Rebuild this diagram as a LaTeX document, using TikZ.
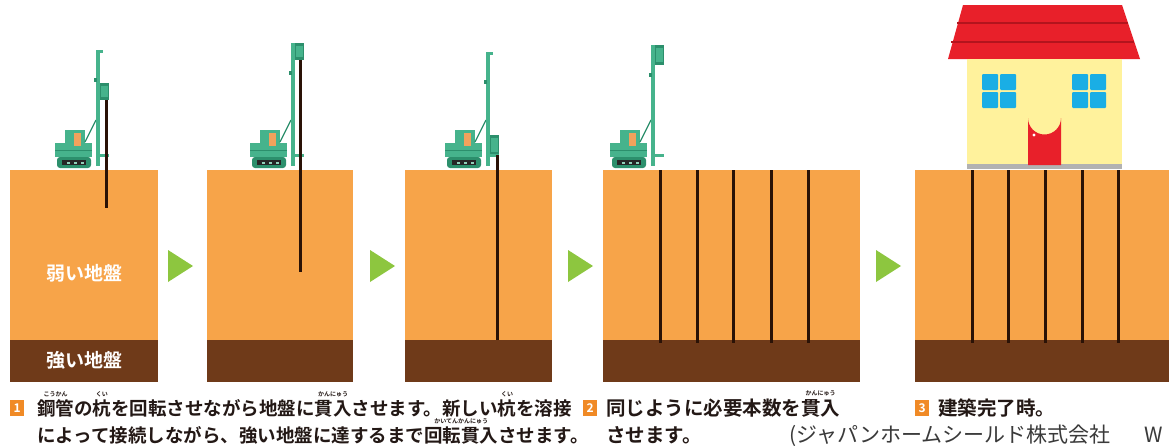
\documentclass[tikz,border=0pt]{standalone}
\usepackage{fontspec}
\newfontfamily\jp{Noto Sans CJK JP}[BoldFont=* Bold]
\definecolor{soil}{HTML}{F7A449}
\definecolor{rock}{HTML}{6F3A19}
\definecolor{piledark}{HTML}{2A1206}
\definecolor{arrowgreen}{HTML}{8DC63F}
\definecolor{riggreen}{HTML}{46B38C}
\definecolor{riggreendark}{HTML}{2C8F6C}
\definecolor{caborange}{HTML}{F2A25C}
\definecolor{roofred}{HTML}{E8202A}
\definecolor{roofdark}{HTML}{B3141D}
\definecolor{wall}{HTML}{FFF29C}
\definecolor{glass}{HTML}{1AAEE5}
\definecolor{numorange}{HTML}{F08A26}
\definecolor{captext}{HTML}{231815}
\definecolor{credit}{HTML}{3A3A3A}
% furigana set above a word without changing the line height
\newcommand\rb[2]{\setbox0\hbox{#1}\rlap{\raisebox{1.0em}[0pt][0pt]{\makebox[\wd0]{\fontsize{6}{6}\selectfont #2}}}\box0}
% pile-driving rig: #1 mast x, #2 mast top, #3 head top, #4 head bottom
\newcommand\drawrig[4]{%
  \begin{scope}[shift={(#1,0)}]
    \fill[riggreendark, rounded corners=3pt] (-41,157) rectangle (-7,168);
    \fill[black!85] (-36,160) rectangle (-12,165);
    \foreach \w in {-31,-24,-17} \fill[riggreen!60] (\w,161.5) rectangle (\w+3,163.5);
    \fill[riggreen] (-43,143) rectangle (-6,157);
    \draw[riggreendark, line width=0.8pt] (-43,150) -- (-6,150);
    \fill[riggreen] (-33,130) rectangle (-13,143);
    \fill[caborange] (-24,133) rectangle (-17,146);
    \draw[riggreendark, line width=1.2pt] (-13,142) -- (-2,120);
    \fill[riggreen] (-2,#2) rectangle (1.5,166);
    \fill[riggreen] (-2,#2) rectangle (5,#2+2.5);
    \fill[riggreendark] (-4,#2+28) rectangle (-1,#2+32);
    \fill[riggreendark] (1.5,#3) rectangle (11,#4);
    \fill[riggreen] (3,#3+3) rectangle (9.5,#4-3);
    \fill[riggreen] (1.5,154) rectangle (11,157);
  \end{scope}}
\begin{document}
\begin{tikzpicture}[x=1pt,y=-1pt,
  soilfill/.style={fill=soil},
  rockfill/.style={fill=rock},
  pile/.style={draw=piledark, line width=3pt},
  steparrow/.style={fill=arrowgreen},
  layerlbl/.style={font=\jp\bfseries\fontsize{19}{19}\selectfont, text=white, inner sep=0},
  captxt/.style={font=\jp\bfseries\fontsize{18.5}{18.5}\selectfont, text=captext, anchor=base west, inner sep=0},
  captxtb/.style={captxt, font=\jp\bfseries\fontsize{19.5}{19.5}\selectfont},
  numbox/.style={fill=numorange, text=white, font=\jp\bfseries\fontsize{12}{12}\selectfont, minimum width=14pt, minimum height=16pt, inner sep=0, anchor=north west},
  creditlbl/.style={font=\jp\fontsize{21}{21}\selectfont, text=credit, anchor=base west, inner sep=0}]
\useasboundingbox (0,0) rectangle (1169,445);
\fill[white] (0,0) rectangle (1169,445);

% ground panels: weak soil above, bearing layer below
\foreach \a/\b in {10/158, 207/353, 405/552, 603/860, 915/1169} {
  \fill[soilfill] (\a,170) rectangle (\b,340);
  \fill[rockfill] (\a,340) rectangle (\b,382);
}

% step arrows
\foreach \a in {168, 370, 568, 876}
  \fill[steparrow] (\a,250) -- (\a+25,266) -- (\a,282) -- cycle;

% step 1: first pile entering the soil
\drawrig{98}{50}{83}{100}
\draw[pile] (106,100) -- (106,208);
% step 2: pile extended and driven deeper
\drawrig{293}{43}{43}{60}
\draw[pile] (300,60) -- (300,272);
% step 3: pile reaches the bearing layer
\drawrig{488}{52}{135}{155}
\draw[pile] (497,155) -- (497,340);
% step 4: rig with all piles installed
\drawrig{653}{45}{45}{65}
\foreach \p in {660, 697, 733, 771, 808}
  \draw[pile] (\p,170) -- (\p,343);
% step 5 piles under the house
\foreach \p in {972, 1008, 1045, 1082, 1118}
  \draw[pile] (\p,170) -- (\p,343);

% house
\fill[roofred] (963,5) -- (1122,5) -- (1140,59) -- (948,59) -- cycle;
\draw[roofdark, line width=2pt] (957,23) -- (1128,23);
\draw[roofdark, line width=2pt] (951,42) -- (1134,42);
\fill[wall] (967,59) rectangle (1122,165);
\fill[black!30] (967,164) rectangle (1122,169);
\foreach \wx in {982, 1072} {
  \foreach \dx/\dy in {0/0, 18/0, 0/18, 18/18}
    \fill[glass, rounded corners=1pt] (\wx+\dx,74+\dy) rectangle (\wx+\dx+16,74+\dy+16);
}
\fill[roofred] (1028,165) -- (1028,118) arc[start angle=180, end angle=0, radius=16.5] -- (1061,165) -- cycle;
\fill[white] (1034,135) circle (1.6);

% layer labels
\node[layerlbl] (weak) at (84,273) {弱い地盤};
\node[layerlbl] (strong) at (84,360) {強い地盤};

% captions
\node[numbox] (n1) at (10,400) {1};
\node[captxt] (c1a) at (37,415) {\rb{鋼管}{こうかん}の\rb{杭}{くい}を回転させながら地盤に\rb{貫入}{かんにゅう}させます。新しい\rb{杭}{くい}を溶接};
\node[captxt] (c1b) at (37,442) {によって接続しながら、強い地盤に達するまで\rb{回転貫入}{かいてんかんにゅう}させます。};
\node[numbox] (n2) at (583,400) {2};
\node[captxtb] (c2a) at (606,415) {同じように必要本数を\rb{貫入}{かんにゅう}};
\node[captxtb] (c2b) at (606,442) {させます。};
\node[numbox] (n3) at (915,400) {3};
\node[captxtb] (c3) at (938,415) {建築完了時。};
\node[creditlbl] (cr) at (789,442) {(ジャパンホームシールド株式会社\hspace{1.6em}W};
\end{tikzpicture}
\end{document}
